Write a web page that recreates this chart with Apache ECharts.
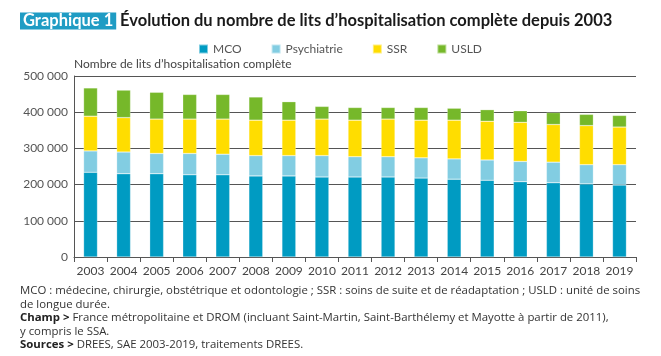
<!DOCTYPE html>
<html><head><meta charset="utf-8">
<script src="https://cdn.jsdelivr.net/npm/echarts@6/dist/echarts.min.js"></script>
<style>html,body{margin:0;padding:0;background:#fff}#c{width:661px;height:356px}</style>
</head><body><div id="c"></div>
<script>
const years = ['2003','2004','2005','2006','2007','2008','2009','2010','2011','2012','2013','2014','2015','2016','2017','2018','2019'];
const mco = [234000,230000,230000,227000,227000,224000,224000,221000,221000,221000,218000,215000,212000,208000,205000,202000,199000];
const psychiatrie = [59000,60000,56000,59000,57000,56000,56000,59000,56000,56000,56000,56000,56000,56000,57000,53000,56000];
const ssr = [96000,95000,95000,95000,97000,98000,98000,101000,101000,104000,104000,107000,107000,108000,104000,108000,104000];
const usld = [78000,76000,74000,68000,68000,64000,51000,35000,35000,32000,35000,33000,32000,32000,33000,31000,32000];
const seriesNames = ['MCO','Psychiatrie','SSR','USLD'];
const yTicks = [0,100000,200000,300000,400000,500000];

const F = 'Lato, "Noto Sans", sans-serif';
const FO = '"Open Sans", Lato, sans-serif';
const colors = ['#009bc2','#82cde2','#ffdd00','#76b82a'];
const fmt = v => String(v).replace(/\B(?=(\d{3})+(?!\d))/g,' ');
const chart = echarts.init(document.getElementById('c'));
const data = [mco, psychiatrie, ssr, usld];
chart.setOption({
  animation:false,
  color: colors,
  title: [
    {text:'{b|Graphique 1}', left:15, top:7, textStyle:{rich:{b:{backgroundColor:'#1f9cc4',color:'#fff',fontFamily:F,fontWeight:'bold',fontSize:16.5,padding:[0,3,0,3],lineHeight:18}}}},
    {text:'Évolution du nombre de lits d’hospitalisation complète depuis 2003', left:115, top:7, textStyle:{fontFamily:F,fontWeight:'bold',fontSize:16.5,color:'#1a1a1a',lineHeight:18}},
    {text:'MCO : médecine, chirurgie, obstétrique et odontologie ; SSR : soins de suite et de réadaptation ; USLD : unité de soins\nde longue durée.\n{b|Champ >} France métropolitaine et DROM (incluant Saint-Martin, Saint-Barthélemy et Mayotte à partir de 2011),\ny compris le SSA.\n{b|Sources >} DREES, SAE 2003-2019, traitements DREES.',
     left:15, top:279, textStyle:{fontFamily:FO,fontSize:11.4,fontWeight:'normal',color:'#333',lineHeight:13.5, rich:{b:{fontFamily:FO,fontSize:11.4,fontWeight:'bold',color:'#222',lineHeight:13.5}}}}
  ],
  legend:{top:38, left:193, itemWidth:9, itemHeight:9, itemGap:29, icon:'rect', textStyle:{fontFamily:F,fontSize:12,color:'#555',padding:[0,0,0,0]}, data:seriesNames},
  grid:{left:74, right:25, top:76, bottom:99},
  xAxis:{type:'category', data:years,
    axisLine:{lineStyle:{color:'#555'}},
    axisTick:{show:true, alignWithLabel:false, length:5, lineStyle:{color:'#555'}},
    axisLabel:{fontFamily:F,fontSize:12,color:'#444',margin:8,interval:0}},
  yAxis:{type:'value', min:0, max:500000, interval:100000,
    name:'Nombre de lits d’hospitalisation complète', nameLocation:'end', nameGap:6,
    nameTextStyle:{fontFamily:F,fontSize:12,color:'#444',align:'left',padding:[0,0,0,0]},
    axisLine:{show:true,lineStyle:{color:'#555'}},
    axisTick:{show:false},
    axisLabel:{fontFamily:F,fontSize:12,color:'#555',margin:6,formatter:v=>yTicks.includes(v)?fmt(v):''},
    splitLine:{lineStyle:{color:'#555',width:1}}},
  series: seriesNames.map((n,i)=>({name:n,type:'bar',stack:'t',data:data[i],barWidth:'42%',
    itemStyle:{color:colors[i],borderColor:'rgba(255,255,255,0.5)',borderWidth:0.5}}))
});
</script></body></html>
